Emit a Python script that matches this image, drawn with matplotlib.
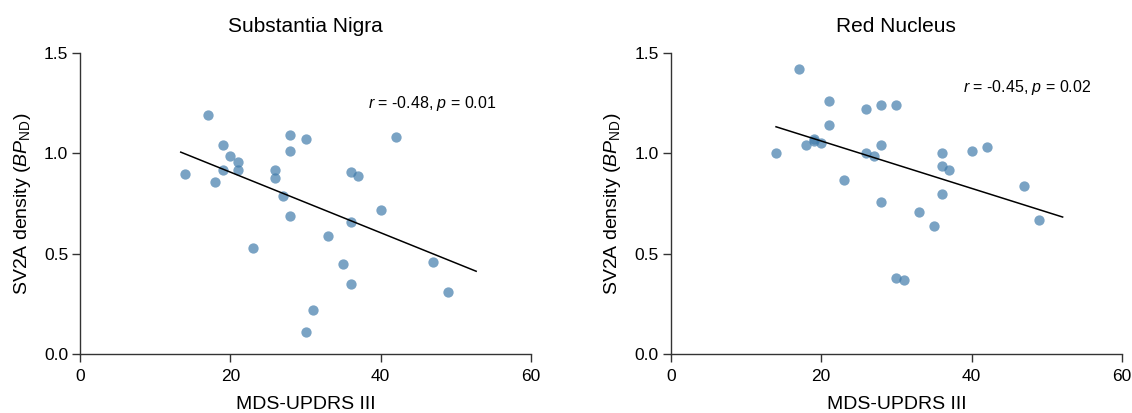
import matplotlib
matplotlib.use("Agg")
import matplotlib.pyplot as plt
import numpy as np

plt.rcParams['font.family'] = ['Liberation Sans', 'DejaVu Sans']
plt.rcParams['mathtext.fontset'] = 'custom'
plt.rcParams['mathtext.rm'] = 'Liberation Sans'
plt.rcParams['mathtext.it'] = 'Liberation Sans:italic'

# MDS-UPDRS III scores (same patients in both regions)
updrs = [14, 17, 18, 19, 19, 20, 21, 21, 23, 26, 26, 27, 28, 28, 28,
         30, 30, 31, 33, 35, 36, 36, 36, 37, 40, 42, 47, 49]

# SV2A BPnd, substantia nigra
sn_bp = [0.90, 1.19, 0.86, 1.04, 0.92, 0.99, 0.96, 0.92, 0.53, 0.92, 0.88, 0.79, 1.09, 1.01, 0.69,
         1.07, 0.11, 0.22, 0.59, 0.45, 0.91, 0.66, 0.35, 0.89, 0.72, 1.08, 0.46, 0.31]

# SV2A BPnd, red nucleus
rn_bp = [1.00, 1.42, 1.04, 1.06, 1.07, 1.05, 1.26, 1.14, 0.87, 1.22, 1.00, 0.99, 1.24, 1.04, 0.76,
         1.24, 0.38, 0.37, 0.71, 0.64, 1.00, 0.94, 0.80, 0.92, 1.01, 1.03, 0.84, 0.67]

titles = ['Substantia Nigra', 'Red Nucleus']
stats = ['$r$ = -0.48, $p$ = 0.01', '$r$ = -0.45, $p$ = 0.02']
fit_range = [(13.4, 52.7), (14.0, 52.1)]
stat_pos = [(38.3, 1.25), (38.9, 1.33)]

fig = plt.figure(figsize=(11.32, 4.13), dpi=100)
axes = [fig.add_axes([0.0707, 0.143, 0.3984, 0.728]),
        fig.add_axes([0.5925, 0.143, 0.3987, 0.728])]

for ax, yvals, title, stat, xr, pos in zip(axes, [sn_bp, rn_bp], titles, stats, fit_range, stat_pos):
    ax.scatter(updrs, yvals, s=55, color='#427cab', alpha=0.7, linewidths=0, zorder=3)

    # least-squares line
    slope, icpt = np.polyfit(updrs, yvals, 1)
    xs = np.array(xr)
    ax.plot(xs, slope * xs + icpt, color='black', linewidth=1.1, zorder=4)

    ax.text(pos[0], pos[1], stat, fontsize=11.5, va='center', ha='left')

    ax.set_xlim(0, 60)
    ax.set_ylim(0, 1.5)
    ax.set_xticks([0, 20, 40, 60])
    ax.set_yticks([0.0, 0.5, 1.0, 1.5])
    ax.set_yticklabels(['0.0', '0.5', '1.0', '1.5'])
    ax.tick_params(labelsize=12.5, length=5.5, width=1, color='#333333')
    ax.tick_params(axis='x', pad=5)
    ax.tick_params(axis='y', pad=3)
    for side in ['top', 'right']:
        ax.spines[side].set_visible(False)
    for side in ['left', 'bottom']:
        ax.spines[side].set_color('#333333')
        ax.spines[side].set_linewidth(1)
    ax.set_xlabel('MDS-UPDRS III', fontsize=14, labelpad=9)
    ax.set_ylabel(r'SV2A density ($\mathit{BP}_{\mathrm{ND}}$)', fontsize=14, labelpad=8)
    ax.set_title(title, fontsize=15, pad=15)

plt.savefig('out.png', dpi=100)
plt.close()
